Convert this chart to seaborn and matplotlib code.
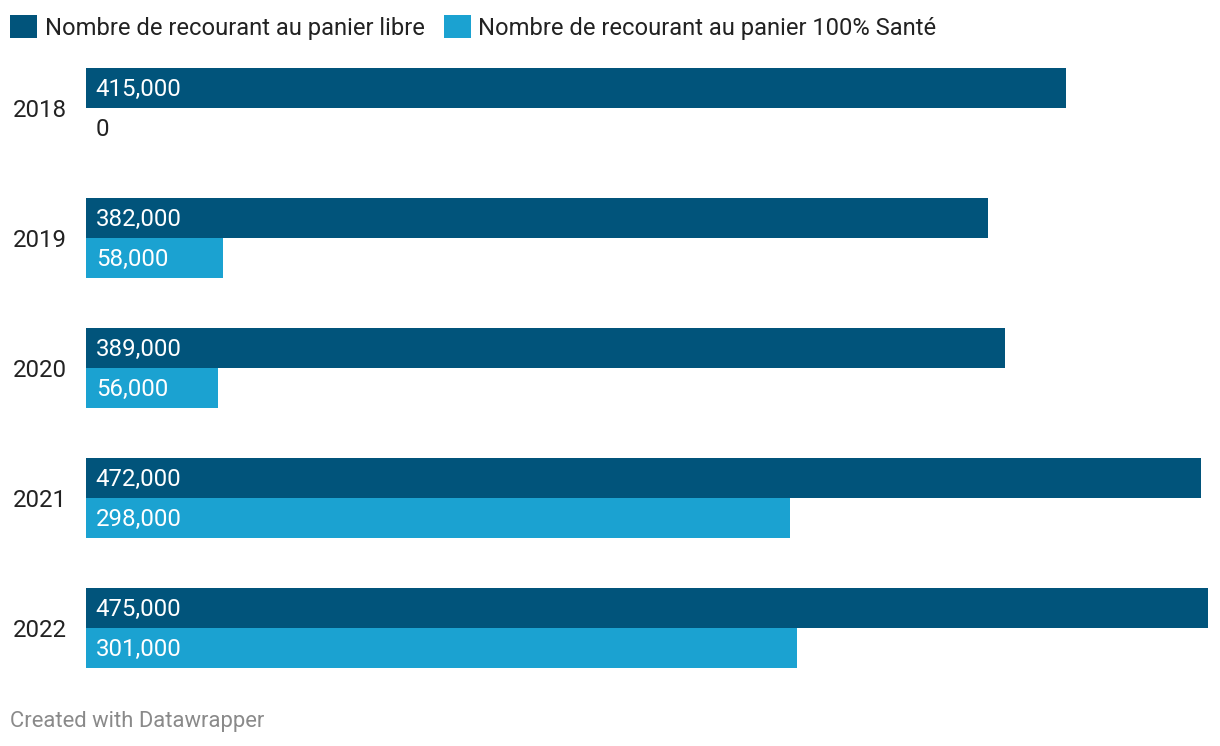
import matplotlib
matplotlib.use("Agg")
import matplotlib.pyplot as plt
import pandas as pd
import seaborn as sns
from matplotlib.patches import Patch

YEARS = ["2018", "2019", "2020", "2021", "2022"]
LIBRE = [415000, 382000, 389000, 472000, 475000]
SANTE = [0, 58000, 56000, 298000, 301000]
SERIES = ["Nombre de recourant au panier libre", "Nombre de recourant au panier 100% Santé"]
COLORS = ["#01547b", "#1ba2d1"]

df = pd.DataFrame({
    "year": YEARS * 2,
    "value": LIBRE + SANTE,
    "serie": [SERIES[0]] * len(YEARS) + [SERIES[1]] * len(YEARS),
})

sns.set_theme(style="white")
plt.rcParams["font.family"] = ["Roboto", "DejaVu Sans"]

FS = 17.3

fig = plt.figure(figsize=(12.2, 7.46), dpi=100)
ax = fig.add_axes([86 / 1220, 1 - 668 / 746, 1122 / 1220, 600 / 746])

sns.barplot(data=df, x="value", y="year", hue="serie", palette=COLORS,
            orient="h", width=0.615, saturation=1, legend=False,
            linewidth=0, ax=ax)

half = 0.615 / 2
ax.set_ylim(len(YEARS) - 1 + half, -half)
ax.set_xlim(0, max(LIBRE))
ax.set_xlabel("")
ax.set_ylabel("")
ax.set_xticks([])
ax.tick_params(axis="y", length=0, pad=14, labelsize=FS, labelcolor="#222222")
sns.despine(ax=ax, left=True, bottom=True)

# value labels at the start of each bar
for container in ax.containers:
    for bar in container:
        val = bar.get_width()
        color = "white" if val > 0 else "#222222"
        ax.annotate(f"{val:,.0f}", xy=(0, bar.get_y() + bar.get_height() / 2),
                    xytext=(7, -1.3), textcoords="offset points",
                    ha="left", va="center", fontsize=FS, color=color)

handles = [Patch(facecolor=c, edgecolor="none") for c in COLORS]
fig.legend(handles, SERIES, loc="upper left", bbox_to_anchor=(3 / 1220, 1 - 8 / 746),
           ncol=2, frameon=False, fontsize=17.1, handlelength=1.13, handleheight=1.13,
           handletextpad=0.33, columnspacing=0.8, borderaxespad=0.0, borderpad=0.3,
           labelcolor="#222222")

fig.text(10 / 1220, 1 - 722 / 746, "Created with Datawrapper", fontsize=15.8,
         color="#8a8a8a", ha="left", va="center")

fig.savefig("out.png", dpi=100)
